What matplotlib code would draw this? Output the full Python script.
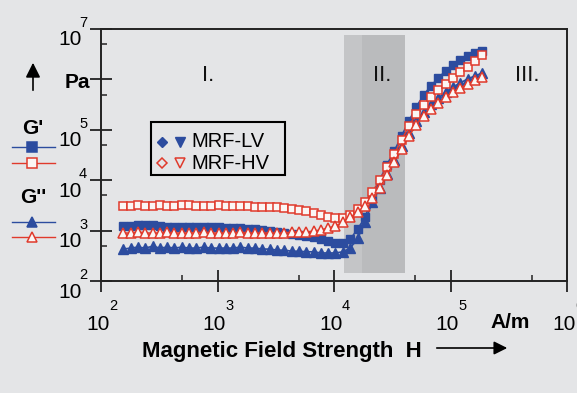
import numpy as np
import matplotlib
matplotlib.use('Agg')
import matplotlib.pyplot as plt
from matplotlib.lines import Line2D
from matplotlib.patches import Rectangle
from matplotlib.ticker import LogLocator, NullFormatter

plt.rcParams['font.family'] = ['Liberation Sans', 'DejaVu Sans']

W, H = 577, 393
BG = '#e4e5e7'
BLUE = '#2c4c9f'
RED = '#e03a2c'

# magnetic field strength H in A/m
field = [155, 180, 207, 240, 277, 320, 370, 427, 493, 570,
         659, 762, 881, 1020, 1180, 1360, 1570, 1820, 2100, 2430,
         2800, 3240, 3750, 4340, 5010, 5790, 6680, 7730, 8930, 10300,
         11900, 13800, 16000, 18500, 21300, 24700, 28400, 32900, 38000, 44000,
         50800, 58700, 67900, 78500, 90800, 105000, 121000, 140000, 162000, 187000]

# G' (storage modulus), Pa
g1_lv = [1230, 1240, 1290, 1280, 1290, 1240, 1180, 1190, 1180, 1170,
         1180, 1180, 1170, 1180, 1130, 1130, 1120, 1080, 1070, 1030,
         980, 940, 900, 860, 820, 780, 750, 680, 620, 570,
         570, 680, 1080, 1860, 4440, 10100, 20000, 37900, 75300, 150000,
         283000, 490000, 739000, 1.07e6, 1.47e6, 1.93e6, 2.43e6, 2.91e6, 3.34e6, 3.66e6]
g1_hv = [3100, 3080, 3200, 3120, 3060, 3180, 3100, 3050, 3200, 3150,
         3080, 3100, 3050, 3180, 3100, 3060, 3080, 3050, 3000, 2940,
         2940, 2940, 2810, 2680, 2560, 2450, 2230, 2040, 1860, 1780,
         1780, 2040, 2680, 3690, 5830, 10100, 18300, 33100, 62800, 119000,
         206000, 310000, 448000, 617000, 811000, 1.07e6, 1.40e6, 1.76e6, 2.32e6, 3.05e6]

# G'' (loss modulus), Pa
g2_lv = [430, 450, 470, 450, 490, 450, 470, 450, 470, 450,
         450, 470, 450, 450, 450, 450, 470, 450, 450, 430,
         430, 410, 410, 390, 390, 380, 380, 360, 360, 360,
         380, 450, 710, 1480, 3690, 7000, 13300, 25200, 47800, 86500,
         150000, 226000, 325000, 428000, 562000, 706000, 849000, 1.02e6, 1.17e6, 1.34e6]
g2_hv = [900, 890, 940, 900, 890, 900, 930, 900, 890, 900,
         900, 940, 900, 890, 900, 900, 930, 900, 890, 900,
         900, 890, 900, 930, 940, 940, 980, 1030, 1130, 1230,
         1480, 1860, 2340, 3080, 4440, 7000, 12700, 23000, 41600, 75300,
         125000, 188000, 259000, 340000, 448000, 562000, 675000, 811000, 972000, 1.12e6]

region_edges = [1.22e4, 1.74e4, 4.07e4]
region_names = ['I.', 'II.', 'III.']
x_decades = [1e2, 1e3, 1e4, 1e5, 1e6]
y_decades = [1e2, 1e3, 1e4, 1e5, 1e7]


def fxy(px, py):
    # pixel position (from top-left) -> figure fraction
    return px / W, 1 - py / H


fig = plt.figure(figsize=(W / 100, H / 100), dpi=100, facecolor=BG)
ax = fig.add_axes([101 / W, 1 - 281 / H, 466 / W, 252 / H])
ax.set_facecolor(BG)
ax.set_xscale('log')
ax.set_yscale('log')
ax.set_xlim(1e2, 1e6)
ax.set_ylim(1e2, 1e7)

for s in ax.spines.values():
    s.set_linewidth(1.4)
    s.set_color('#222222')

ax.xaxis.set_major_locator(LogLocator(base=10, numticks=10))
ax.yaxis.set_major_locator(LogLocator(base=10, numticks=10))
ax.xaxis.set_minor_locator(LogLocator(base=10, subs=[5], numticks=10))
ax.yaxis.set_minor_locator(LogLocator(base=10, subs=[5], numticks=10))
ax.xaxis.set_major_formatter(NullFormatter())
ax.yaxis.set_major_formatter(NullFormatter())
ax.xaxis.set_minor_formatter(NullFormatter())
ax.yaxis.set_minor_formatter(NullFormatter())
ax.tick_params(which='major', direction='inout', length=16, width=1.3, color='#222222')
ax.tick_params(which='minor', direction='in', length=4, width=1.1, color='#222222')

# shaded transition region
ax.axvspan(region_edges[0], region_edges[2], ymin=0.032, ymax=0.976, color='#c4c5c7', lw=0, zorder=1)
ax.axvspan(region_edges[1], region_edges[2], ymin=0.032, ymax=0.976, color='#babbbd', lw=0, zorder=1)

ax.plot(field, g1_lv, '-s', color=BLUE, ms=6, lw=1.2, zorder=3)
ax.plot(field, g2_lv, '-^', color=BLUE, ms=7, lw=1.2, zorder=3)
ax.plot(field, g1_hv, '-s', color=RED, mfc='#fbf6f4', ms=6, mew=1.1, lw=1.1, zorder=4)
ax.plot(field, g2_hv, '-^', color=RED, mfc='#fbf6f4', ms=7, mew=1.1, lw=1.1, zorder=5)

for name, xa in zip(region_names, [0.23, 0.603, 0.914]):
    ax.text(xa, 0.815, name, transform=ax.transAxes, ha='center', va='center',
            fontsize=16, color='#111111')

# legend box
ax.add_patch(Rectangle((0.107, 0.421), 0.288, 0.21, transform=ax.transAxes,
                       fill=False, ec='black', lw=1.5, zorder=6))
ax.plot([0.131], [0.552], 'D', color=BLUE, ms=5, transform=ax.transAxes, zorder=7)
ax.plot([0.170], [0.552], 'v', color=BLUE, ms=7, transform=ax.transAxes, zorder=7)
ax.plot([0.131], [0.468], 'D', color=RED, mfc='none', mew=1.1, ms=5, transform=ax.transAxes, zorder=7)
ax.plot([0.170], [0.468], 'v', color=RED, mfc='none', mew=1.1, ms=7, transform=ax.transAxes, zorder=7)
ax.text(0.193, 0.552, 'MRF-LV', transform=ax.transAxes, ha='left', va='center', fontsize=14.5, zorder=7)
ax.text(0.193, 0.468, 'MRF-HV', transform=ax.transAxes, ha='left', va='center', fontsize=14.5, zorder=7)

# tick labels drawn as base + raised exponent
fig.canvas.draw()
for v in x_decades:
    px, _ = ax.transData.transform((v, 1e2))
    e = int(round(np.log10(v)))
    fig.text(*fxy(px - 3, 324), '10', ha='center', va='center', fontsize=15)
    fig.text(*fxy(px + 8, 306), str(e), ha='left', va='center', fontsize=10.5)
for v in y_decades:
    _, py = ax.transData.transform((1e2, v))
    py = H - py
    e = int(round(np.log10(v)))
    fig.text(*fxy(82, py + 11), '10', ha='right', va='center', fontsize=15)
    fig.text(*fxy(79, py - 6), str(e), ha='left', va='center', fontsize=10.5)

_, py6 = ax.transData.transform((1e2, 1e6))
fig.text(*fxy(90, H - py6 + 3), 'Pa', ha='right', va='center', fontsize=15, fontweight='bold')
fig.text(*fxy(510, 323), 'A/m', ha='center', va='center', fontsize=15, fontweight='bold')
fig.text(*fxy(282, 352), 'Magnetic Field Strength  H', ha='center', va='center',
         fontsize=16, fontweight='bold')

# arrows
fig.add_artist(plt.Annotation('', xy=fxy(33, 60), xytext=fxy(33, 93), xycoords='figure fraction',
                              textcoords='figure fraction',
                              arrowprops=dict(arrowstyle='-|>', color='black', lw=1.2, mutation_scale=22)))
fig.add_artist(plt.Annotation('', xy=fxy(510, 348), xytext=fxy(434, 348), xycoords='figure fraction',
                              textcoords='figure fraction',
                              arrowprops=dict(arrowstyle='-|>', color='black', lw=1.2, mutation_scale=20)))

# left-hand key for G' and G''
fig.text(*fxy(33, 128), "G'", ha='center', va='center', fontsize=15, fontweight='bold')
fig.text(*fxy(33, 198), "G''", ha='center', va='center', fontsize=15, fontweight='bold')
for py, col, mk, face in [(147, BLUE, 's', BLUE), (163, RED, 's', '#fbf6f4'),
                          (222, BLUE, '^', BLUE), (237, RED, '^', '#fbf6f4')]:
    x0, y0 = fxy(12, py)
    x1, _ = fxy(55, py)
    xm, _ = fxy(32, py)
    fig.add_artist(Line2D([x0, x1], [y0, y0], color=col, lw=1.0, transform=fig.transFigure))
    fig.add_artist(Line2D([xm], [y0], marker=mk, ms=7, color=col, mfc=face, mew=1.1,
                          transform=fig.transFigure))

fig.savefig('out.png', dpi=100, facecolor=BG)
